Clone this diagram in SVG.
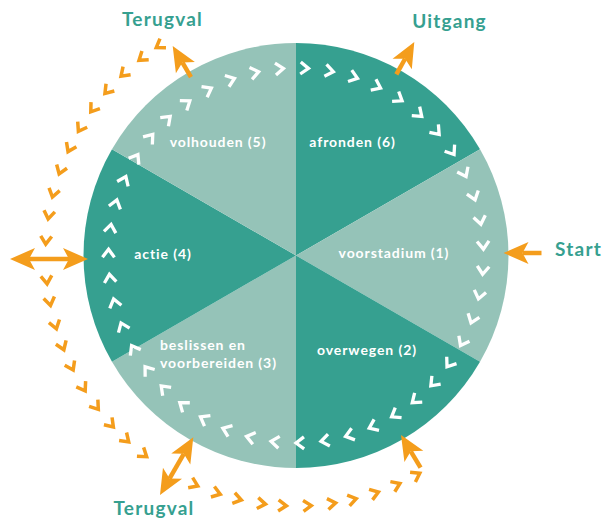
<svg xmlns="http://www.w3.org/2000/svg" xmlns:xlink="http://www.w3.org/1999/xlink" width="603" height="519" viewBox="0 0 603 519">
<defs>
<style>
.dark{fill:#36A090}
.light{fill:#95C3B8}
.lbl{font-family:Lato,"Open Sans","Liberation Sans",sans-serif;font-weight:700;font-size:14px;fill:#ffffff;letter-spacing:0.9px}
.ttl{font-family:Lato,"Open Sans","Liberation Sans",sans-serif;font-weight:700;font-size:19px;fill:#36A090;letter-spacing:1.2px;text-anchor:middle}
.wc{fill:none;stroke:#ffffff;stroke-width:3.3;stroke-linejoin:miter;stroke-linecap:butt}
.oc{fill:none;stroke:#F49D1C;stroke-width:3.5;stroke-linejoin:miter;stroke-linecap:butt}
.ar{stroke:#F49D1C;stroke-width:4.5;fill:none}
.hd{fill:#F49D1C}
</style>
<polyline id="wc" class="wc" points="291.5,62 299.5,68 291.5,74"/>
<polyline id="oc" class="oc" points="300.5,-0.5 292.5,5 300.5,10.5"/>
<path id="hd" class="hd" d="M0,0 L-25,-11 L-19,0 L-25,11 Z"/>
</defs>
<rect width="603" height="519" fill="#ffffff"/>

<g id="node-afronden">
<path class="dark" d="M296,255.5 L296,43 A212.5,212.5 0 0 1 480.03,149.25 Z"/>
<text class="lbl" x="352.5" y="147" text-anchor="middle">afronden (6)</text>
</g>
<g id="node-voorstadium">
<path class="light" d="M296,255.5 L480.03,149.25 A212.5,212.5 0 0 1 480.03,361.75 Z"/>
<text class="lbl" x="394" y="258" text-anchor="middle">voorstadium (1)</text>
</g>
<g id="node-overwegen">
<path class="dark" d="M296,255.5 L480.03,361.75 A212.5,212.5 0 0 1 296,468 Z"/>
<text class="lbl" x="367" y="355" text-anchor="middle">overwegen (2)</text>
</g>
<g id="node-beslissen">
<path class="light" d="M296,255.5 L296,468 A212.5,212.5 0 0 1 111.97,361.75 Z"/>
<text class="lbl" x="160" y="350">beslissen en</text>
<text class="lbl" x="160" y="368">voorbereiden (3)</text>
</g>
<g id="node-actie">
<path class="dark" d="M296,255.5 L111.97,361.75 A212.5,212.5 0 0 1 111.97,149.25 Z"/>
<text class="lbl" x="163" y="259" text-anchor="middle">actie (4)</text>
</g>
<g id="node-volhouden">
<path class="light" d="M296,255.5 L111.97,149.25 A212.5,212.5 0 0 1 296,43 Z"/>
<text class="lbl" x="218" y="147" text-anchor="middle">volhouden (5)</text>
</g>

<g id="connectors">
<g id="inner-cycle">
<use href="#wc" transform="rotate(87 296 255.5)"/>
<use href="#wc" transform="rotate(94.66 296 255.5)"/>
<use href="#wc" transform="rotate(102.32 296 255.5)"/>
<use href="#wc" transform="rotate(109.98 296 255.5)"/>
<use href="#wc" transform="rotate(117.64 296 255.5)"/>
<use href="#wc" transform="rotate(125.30 296 255.5)"/>
<use href="#wc" transform="rotate(132.96 296 255.5)"/>
<use href="#wc" transform="rotate(140.62 296 255.5)"/>
<use href="#wc" transform="rotate(148.28 296 255.5)"/>
<use href="#wc" transform="rotate(155.94 296 255.5)"/>
<use href="#wc" transform="rotate(163.60 296 255.5)"/>
<use href="#wc" transform="rotate(171.26 296 255.5)"/>
<use href="#wc" transform="rotate(178.92 296 255.5)"/>
<use href="#wc" transform="rotate(186.57 296 255.5)"/>
<use href="#wc" transform="rotate(194.23 296 255.5)"/>
<use href="#wc" transform="rotate(201.89 296 255.5)"/>
<use href="#wc" transform="rotate(209.55 296 255.5)"/>
<use href="#wc" transform="rotate(217.21 296 255.5)"/>
<use href="#wc" transform="rotate(224.87 296 255.5)"/>
<use href="#wc" transform="rotate(232.53 296 255.5)"/>
<use href="#wc" transform="rotate(240.19 296 255.5)"/>
<use href="#wc" transform="rotate(247.85 296 255.5)"/>
<use href="#wc" transform="rotate(255.51 296 255.5)"/>
<use href="#wc" transform="rotate(263.17 296 255.5)"/>
<use href="#wc" transform="rotate(270.83 296 255.5)"/>
<use href="#wc" transform="rotate(278.49 296 255.5)"/>
<use href="#wc" transform="rotate(286.15 296 255.5)"/>
<use href="#wc" transform="rotate(293.81 296 255.5)"/>
<use href="#wc" transform="rotate(301.47 296 255.5)"/>
<use href="#wc" transform="rotate(309.13 296 255.5)"/>
<use href="#wc" transform="rotate(316.79 296 255.5)"/>
<use href="#wc" transform="rotate(324.45 296 255.5)"/>
<use href="#wc" transform="rotate(332.11 296 255.5)"/>
<use href="#wc" transform="rotate(339.77 296 255.5)"/>
<use href="#wc" transform="rotate(347.43 296 255.5)"/>
<use href="#wc" transform="rotate(355.09 296 255.5)"/>
<use href="#wc" transform="rotate(362.75 296 255.5)"/>
<use href="#wc" transform="rotate(370.41 296 255.5)"/>
<use href="#wc" transform="rotate(378.07 296 255.5)"/>
<use href="#wc" transform="rotate(385.73 296 255.5)"/>
<use href="#wc" transform="rotate(393.38 296 255.5)"/>
<use href="#wc" transform="rotate(401.04 296 255.5)"/>
<use href="#wc" transform="rotate(408.70 296 255.5)"/>
<use href="#wc" transform="rotate(416.36 296 255.5)"/>
<use href="#wc" transform="rotate(424.02 296 255.5)"/>
<use href="#wc" transform="rotate(431.68 296 255.5)"/>
<use href="#wc" transform="rotate(439.34 296 255.5)"/>
</g>
<g id="relapse-path">
<use href="#oc" transform="rotate(-33.1 296 255.5)"/>
<use href="#oc" transform="rotate(-38 296 255.5)"/>
<use href="#oc" transform="rotate(-43.5 296 255.5)"/>
<use href="#oc" transform="rotate(-48.9 296 255.5)"/>
<use href="#oc" transform="rotate(-54.2 296 255.5)"/>
<use href="#oc" transform="rotate(-59.5 296 255.5)"/>
<use href="#oc" transform="rotate(-64.7 296 255.5)"/>
<use href="#oc" transform="rotate(-70.2 296 255.5)"/>
<use href="#oc" transform="rotate(-75.7 296 255.5)"/>
<use href="#oc" transform="rotate(-80.8 296 255.5)"/>
<use href="#oc" transform="rotate(-86.6 296 255.5)"/>
<use href="#oc" transform="rotate(-95.7 296 255.5)"/>
<use href="#oc" transform="rotate(-100.7 296 255.5)"/>
<use href="#oc" transform="rotate(-106.2 296 255.5)"/>
<use href="#oc" transform="rotate(-111.3 296 255.5)"/>
<use href="#oc" transform="rotate(-116.4 296 255.5)"/>
<use href="#oc" transform="rotate(-121.9 296 255.5)"/>
<use href="#oc" transform="rotate(-127.1 296 255.5)"/>
<use href="#oc" transform="rotate(-132.4 296 255.5)"/>
<use href="#oc" transform="rotate(-137.3 296 255.5)"/>
<use href="#oc" transform="rotate(-142.6 296 255.5)"/>
<use href="#oc" transform="rotate(-156.1 296 255.5)"/>
<use href="#oc" transform="rotate(-161.6 296 255.5)"/>
<use href="#oc" transform="rotate(-166.6 296 255.5)"/>
<use href="#oc" transform="rotate(-172.2 296 255.5)"/>
<use href="#oc" transform="rotate(-177 296 255.5)"/>
<use href="#oc" transform="rotate(-182.7 296 255.5)"/>
<use href="#oc" transform="rotate(-188.3 296 255.5)"/>
<use href="#oc" transform="rotate(-193.1 296 255.5)"/>
<use href="#oc" transform="rotate(-198.4 296 255.5)"/>
<use href="#oc" transform="rotate(-203.7 296 255.5)"/>
<use href="#oc" transform="rotate(-208.8 296 255.5)"/>
</g>
<g id="arrow-terugval-top" transform="translate(172.7,46.1) rotate(-120.5)">
<line class="ar" x1="-19" y1="0" x2="-36" y2="0"/>
<use href="#hd"/>
</g>
<g id="arrow-uitgang" transform="translate(414.3,42.1) rotate(-61)">
<line class="ar" x1="-19" y1="0" x2="-37" y2="0"/>
<use href="#hd"/>
</g>
<g id="arrow-start" transform="translate(503.5,253) rotate(180)">
<line class="ar" x1="-19" y1="0" x2="-38" y2="0"/>
<use href="#hd"/>
</g>
<g id="arrow-left" transform="translate(88,259)">
<line class="ar" x1="-19" y1="0" x2="-59" y2="0"/>
<use href="#hd"/>
<use href="#hd" transform="translate(-78,0) rotate(180)"/>
</g>
<g id="arrow-terugval-bottom" transform="translate(193.3,437.3) rotate(-60)">
<line class="ar" x1="-19" y1="0" x2="-47.6" y2="0"/>
<use href="#hd"/>
<use href="#hd" transform="translate(-66.6,0) rotate(180)"/>
</g>
<g id="arrow-return" transform="translate(401,435) rotate(-121)">
<line class="ar" x1="-19" y1="0" x2="-38" y2="0"/>
<use href="#hd"/>
</g>
</g>

<g id="labels">
<text class="ttl" x="162.5" y="26">Terugval</text>
<text class="ttl" x="449.5" y="28">Uitgang</text>
<text class="ttl" x="578.5" y="256">Start</text>
<text class="ttl" x="154" y="515">Terugval</text>
</g>
</svg>
